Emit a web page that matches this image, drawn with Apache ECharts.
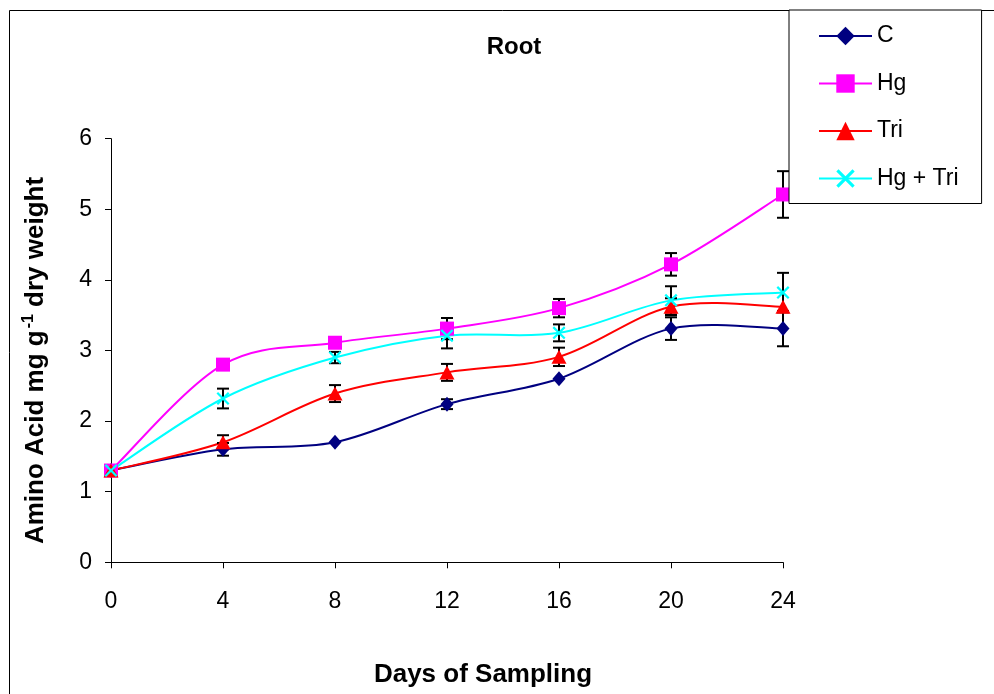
<!DOCTYPE html>
<html>
<head>
<meta charset="utf-8">
<script src="https://cdn.jsdelivr.net/npm/echarts@6/dist/echarts.min.js"></script>
<style>
  html, body { margin: 0; padding: 0; background: #fff; }
  #chart { width: 994px; height: 694px; }
</style>
</head>
<body>
<div id="chart"></div>
<script>
// Sampling days and amino acid content (mg g-1 dry weight) of roots
const days = [0, 4, 8, 12, 16, 20, 24];
const xTicks = [0, 4, 8, 12, 16, 20, 24];
const yTicks = [0, 1, 2, 3, 4, 5, 6];

const seriesNames = ['C', 'Hg', 'Tri', 'Hg + Tri'];
const valuesC     = [1.3, 1.6, 1.7, 2.24, 2.6, 3.31, 3.31];
const valuesHg    = [1.3, 2.8, 3.11, 3.31, 3.6, 4.22, 5.21];
const valuesTri   = [1.3, 1.7, 2.39, 2.69, 2.91, 3.62, 3.62];
const valuesHgTri = [1.3, 2.32, 2.9, 3.21, 3.25, 3.71, 3.82];

// Standard errors (0 = no bar drawn)
const errC     = [0, 0.09, 0, 0.07, 0, 0.16, 0.25];
const errHg    = [0, 0, 0, 0.15, 0.13, 0.16, 0.33];
const errTri   = [0, 0.1, 0.12, 0.12, 0.13, 0.12, 0];
const errHgTri = [0, 0.14, 0.08, 0.18, 0.12, 0.2, 0.28];

const FONT = "'Liberation Sans', Arial, sans-serif";
const crossPath = 'path://M0,1.2L1.2,0L5,3.8L8.8,0L10,1.2L6.2,5L10,8.8L8.8,10L5,6.2L1.2,10L0,8.8L3.8,5Z';

const styles = [
  { color: '#000080', symbol: 'diamond', size: [13, 15] },
  { color: '#FF00FF', symbol: 'rect', size: 14 },
  { color: '#FF0000', symbol: 'triangle', size: [15, 14] },
  { color: '#00FFFF', symbol: crossPath, size: 13 }
];
const allValues = [valuesC, valuesHg, valuesTri, valuesHgTri];
const allErrors = [errC, errHg, errTri, errHgTri];

function pairs(vals) {
  return days.map((d, i) => [d, vals[i]]);
}
function errData(vals, errs) {
  const out = [];
  days.forEach((d, i) => {
    if (errs[i] > 0) out.push([d, vals[i] - errs[i], vals[i] + errs[i]]);
  });
  return out;
}
function renderErr(params, api) {
  const x = api.value(0);
  const lo = api.coord([x, api.value(1)]);
  const hi = api.coord([x, api.value(2)]);
  const w = 6;
  const st = { stroke: '#000', lineWidth: 2 };
  return {
    type: 'group',
    children: [
      { type: 'line', shape: { x1: lo[0], y1: lo[1], x2: hi[0], y2: hi[1] }, style: st },
      { type: 'line', shape: { x1: lo[0] - w, y1: lo[1], x2: lo[0] + w, y2: lo[1] }, style: st },
      { type: 'line', shape: { x1: hi[0] - w, y1: hi[1], x2: hi[0] + w, y2: hi[1] }, style: st }
    ]
  };
}

// Smoothed connecting curve: one cubic Bezier segment per data point
// (Catmull-Rom style tangents through the neighbouring points).
function makeCurveRenderer(color) {
  return function (params, api) {
    const i = params.dataIndexInside;
    const n = params.dataInsideLength;
    if (i >= n - 1) return null;
    const pt = (k) => api.coord([api.value(0, k), api.value(1, k)]);
    const p0 = pt(Math.max(i - 1, 0));
    const p1 = pt(i);
    const p2 = pt(i + 1);
    const p3 = pt(Math.min(i + 2, n - 1));
    const t = 1 / 6;
    return {
      type: 'bezierCurve',
      shape: {
        x1: p1[0], y1: p1[1], x2: p2[0], y2: p2[1],
        cpx1: p1[0] + (p2[0] - p0[0]) * t, cpy1: p1[1] + (p2[1] - p0[1]) * t,
        cpx2: p2[0] - (p3[0] - p1[0]) * t, cpy2: p2[1] - (p3[1] - p1[1]) * t
      },
      style: { stroke: color, lineWidth: 2, fill: null }
    };
  };
}

const series = [];
seriesNames.forEach((name, k) => {
  series.push({
    name: name + ' curve',
    type: 'custom',
    renderItem: makeCurveRenderer(styles[k].color),
    data: pairs(allValues[k]),
    z: 1,
    silent: true
  });
});
seriesNames.forEach((name, k) => {
  series.push({
    name: name + ' error',
    type: 'custom',
    renderItem: renderErr,
    data: errData(allValues[k], allErrors[k]),
    z: 2,
    silent: true
  });
});
seriesNames.forEach((name, k) => {
  series.push({
    name: name,
    type: 'line',
    data: pairs(allValues[k]),
    symbol: styles[k].symbol,
    symbolSize: styles[k].size,
    showAllSymbol: true,
    lineStyle: { color: styles[k].color, width: 2, opacity: 0 },
    itemStyle: { color: styles[k].color, borderWidth: 0 },
    z: 3,
    animation: false
  });
});

const chart = echarts.init(document.getElementById('chart'), null, { renderer: 'canvas' });
chart.setOption({
  animation: false,
  backgroundColor: '#fff',
  textStyle: { fontFamily: FONT },
  title: {
    text: 'Root',
    left: 509,
    top: 30,
    textAlign: 'center',
    textStyle: { fontFamily: FONT, fontSize: 24, fontWeight: 'bold', color: '#000' }
  },
  graphic: [{
    type: 'rect',
    shape: { x: 9.5, y: 10.5, width: 1200, height: 1000 },
    style: { fill: 'none', stroke: '#000', lineWidth: 1 },
    z: -10,
    silent: true
  }],
  legend: {
    data: seriesNames.map((name, k) => ({
      name: name,
      lineStyle: { color: styles[k].color, width: 2, opacity: 1 },
      itemStyle: { color: styles[k].color }
    })),
    orient: 'vertical',
    left: 789,
    top: 10,
    padding: [14, 23, 13, 29],
    itemWidth: 53,
    itemHeight: 23,
    itemGap: 23.5,
    backgroundColor: '#fff',
    borderColor: '#000',
    borderWidth: 1,
    borderRadius: 0,
    textStyle: { fontFamily: FONT, fontSize: 23, color: '#000', lineHeight: 24 },
    z: 10
  },
  grid: { left: 111, right: 211, top: 138.7, bottom: 131.7, containLabel: false, outerBoundsMode: 'none' },
  xAxis: {
    type: 'value',
    min: xTicks[0],
    max: xTicks[xTicks.length - 1],
    interval: 4,
    name: 'Days of Sampling',
    nameLocation: 'middle',
    nameGap: 100,
    nameTextStyle: { fontFamily: FONT, fontSize: 26, fontWeight: 'bold', color: '#000', padding: [0, 0, 0, 72] },
    axisLine: { show: true, lineStyle: { color: '#000', width: 1 } },
    axisTick: { show: true, inside: false, length: 6, lineStyle: { color: '#000' } },
    axisLabel: { margin: 28, fontFamily: FONT, fontSize: 23, color: '#000' },
    splitLine: { show: false }
  },
  yAxis: {
    type: 'value',
    min: yTicks[0],
    max: yTicks[yTicks.length - 1],
    interval: 1,
    name: '{b|Amino Acid mg g}{s|-1}{b| dry weight}',
    nameLocation: 'middle',
    nameRotate: 90,
    nameGap: 62,
    nameTextStyle: {
      fontFamily: FONT,
      color: '#000',
      padding: [0, 20, 0, 0],
      rich: {
        b: { fontFamily: FONT, fontSize: 26, fontWeight: 'bold', color: '#000', lineHeight: 28, verticalAlign: 'bottom' },
        s: { fontFamily: FONT, fontSize: 16, fontWeight: 'bold', color: '#000', lineHeight: 28, verticalAlign: 'top', padding: [0, 0, 0, 2] }
      }
    },
    axisLine: { show: true, lineStyle: { color: '#000', width: 1 } },
    axisTick: { show: true, inside: false, length: 6, lineStyle: { color: '#000' } },
    axisLabel: { margin: 19, fontFamily: FONT, fontSize: 23, color: '#000' },
    splitLine: { show: false }
  },
  series: series
});
</script>
</body>
</html>
